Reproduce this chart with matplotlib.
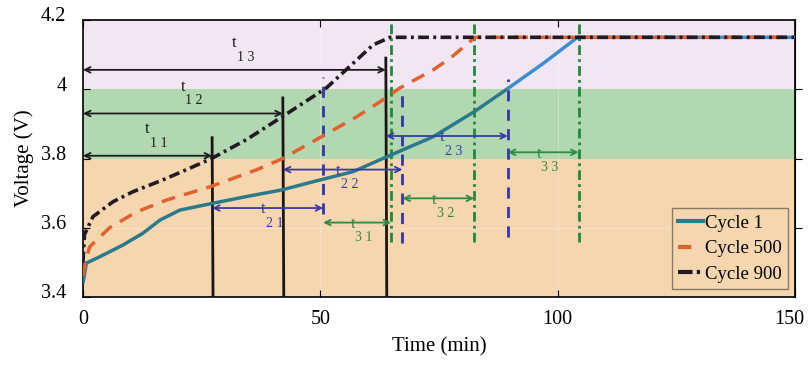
import matplotlib.pyplot as plt
import matplotlib.transforms as mtransforms
import numpy as np

plt.rcParams['font.family'] = ['Liberation Serif', 'DejaVu Serif']

# curves (time in min, voltage in V)
t_c1 = [0, 0.7, 3.5, 8.4, 12.6, 16.2, 20.4, 27.1, 34.4, 41.8, 48.5, 56.9, 64.0, 73.8, 82.4, 89.6,
        97.0, 104.2, 150]
v_c1 = [3.44, 3.498, 3.516, 3.55, 3.584, 3.622, 3.651, 3.67, 3.69, 3.709, 3.733, 3.762, 3.805, 3.863,
        3.935, 4.003, 4.075, 4.15, 4.15]
t_c500 = [0, 0.5, 1.4, 5.6, 11.3, 17.6, 26.7, 36.5, 42.1, 47.8, 57.6, 62.6, 66.8, 73.8, 77.4, 82.6, 150]
v_c500 = [3.46, 3.50, 3.545, 3.60, 3.646, 3.68, 3.718, 3.767, 3.80, 3.844, 3.92, 3.964, 4.004, 4.056,
          4.09, 4.15, 4.15]
t_c900 = [0, 0.3, 2.1, 6.3, 10.5, 16.8, 22.5, 27.1, 34.5, 41.9, 51.3, 61.1, 64.7, 150]
v_c900 = [3.50, 3.58, 3.632, 3.675, 3.704, 3.738, 3.772, 3.80, 3.855, 3.92, 4.004, 4.128, 4.15, 4.15]

# marker verticals: x, y bottom, y top
black_x = [27.2, 42.1, 63.8]
black_top = [3.86, 3.975, 4.09]
blue_x = [50.6, 67.3, 89.5]
blue_bot = [3.64, 3.556, 3.573]
blue_top = [4.035, 4.006, 4.03]
green_x = [64.9, 82.4, 104.4]
green_bot = [3.56, 3.56, 3.56]

# interval arrows: start, end, height
t1_start = [0, 0, 0]
t1_end = [27.2, 42.1, 63.8]
t1_y = [3.808, 3.93, 4.056]
t2_start = [27.2, 42.1, 63.8]
t2_end = [50.6, 67.3, 89.5]
t2_y = [3.657, 3.768, 3.865]
t3_start = [50.6, 67.3, 89.5]
t3_end = [64.9, 82.4, 104.4]
t3_y = [3.615, 3.685, 3.818]

bands = [(3.4, 3.8, '#f5d6af'), (3.8, 4.0, '#b1d8b1'), (4.0, 4.2, '#f2e6f4')]

fig = plt.figure(figsize=(8.08, 3.67), dpi=100)
ax = fig.add_axes([0.1027, 0.1907, 0.8812, 0.7548])
ax.set_xlim(0, 150)
ax.set_ylim(3.4, 4.2)

for lo, hi, c in bands:
    ax.axhspan(lo, hi, color=c, zorder=0, lw=0)
for gx in [50, 100]:
    ax.axvline(gx, color='white', lw=0.5, alpha=0.4, zorder=0.5)
ax.axhline(3.6, color='white', lw=0.5, alpha=0.4, zorder=0.5)

# vertical markers
for x, top in zip(black_x, black_top):
    ax.plot([x, x + 0.2], [top, 3.4], color='#1c1612', lw=2.0, zorder=4)
for x, b, top in zip(blue_x, blue_bot, blue_top):
    ax.plot([x, x], [b, top], color='#3535a8', lw=2.0, dashes=(4, 3), zorder=4)
for x, b in zip(green_x, green_bot):
    ax.plot([x, x], [b, 4.2], color='#1f8a3a', lw=2.0, dashes=(3.5, 1.5, 1, 1.5), zorder=4)

# curves
t1 = np.array(t_c1)
v1 = np.array(v_c1)
k = 15
ax.plot(t1[:k + 1], v1[:k + 1], color='#2b7a8c', lw=2.5, zorder=5, solid_capstyle='butt')
ax.plot(t1[k:], v1[k:], color='#3d8ed0', lw=2.5, zorder=5)
ax.plot(t_c500, v_c500, color='#e0622e', lw=2.5, dashes=(4, 2.7), zorder=6)
ax.plot(t_c900, v_c900, color='#221a22', lw=2.6, dashes=(3, 1.2, 0.8, 1.2), zorder=7)


def interval(x0, x1, y, color, name, ltype):
    ax.annotate('', xy=(x1, y), xytext=(x0, y),
                arrowprops=dict(arrowstyle='<->', color=color, lw=1.3,
                                shrinkA=0, shrinkB=0, mutation_scale=10), zorder=8)
    mid = (x0 + x1) / 2
    if ltype == 'above':
        ax.annotate('t', (mid, y), xytext=(0, 19), textcoords='offset points',
                    ha='center', va='center', fontsize=12, color=color, zorder=9)
        ax.annotate(name, (mid, y), xytext=(8, 9), textcoords='offset points',
                    ha='center', va='center', fontsize=10, color=color, zorder=9)
    else:
        ax.annotate('t', (mid, y), xytext=(-3, -1), textcoords='offset points',
                    ha='center', va='center', fontsize=12, color=color, zorder=9)
        ax.annotate(name, (mid, y), xytext=(5, -11), textcoords='offset points',
                    ha='center', va='center', fontsize=10, color=color, zorder=9)


for i in range(3):
    interval(t1_start[i], t1_end[i], t1_y[i], '#1c1c1c', '1 %d' % (i + 1), 'above')
    interval(t2_start[i], t2_end[i], t2_y[i], '#3a3aa8', '2 %d' % (i + 1), 'below')
    interval(t3_start[i], t3_end[i], t3_y[i], '#2e8b3e', '3 %d' % (i + 1), 'below')

# legend
h1, = ax.plot([], [], color='#2b7a8c', lw=3)
h2, = ax.plot([], [], color='#e0622e', lw=3, dashes=(3.2, 5))
h3, = ax.plot([], [], color='#221a22', lw=3, dashes=(3.5, 1.0, 0.8, 5))
leg = ax.legend([h1, h2, h3], ['Cycle 1', 'Cycle 500', 'Cycle 900'], loc='lower right',
                bbox_to_anchor=(0.99, 0.028), fontsize=13.5, handlelength=1.3,
                handletextpad=0.1, fancybox=False, framealpha=1, borderaxespad=0,
                facecolor='#f5d6af', edgecolor='#8a7a6a', labelspacing=0.45,
                borderpad=0.35)
leg.get_frame().set_linewidth(1.0)
leg.set_zorder(10)

ax.set_xticks([0, 50, 100, 150])
ax.set_yticks([3.4, 3.6, 3.8, 4.0, 4.2])
ax.set_yticklabels(['3.4', '3.6', '3.8', '4', '4.2'])
ax.tick_params(direction='in', top=True, right=False, labelsize=14.5, length=5)
ax.tick_params(axis='y', pad=12)
ax.tick_params(axis='x', pad=9)
sec = ax.secondary_yaxis('right')
sec.set_yticks([3.6, 3.8, 4.0])
sec.tick_params(direction='out', length=5, labelright=False)
for s in ax.spines.values():
    s.set_linewidth(1.2)
ax.set_xlabel('Time (min)', fontsize=15, labelpad=6)
ax.set_ylabel('Voltage (V)', fontsize=15, labelpad=5)

# nudge tick labels like the original
up = mtransforms.ScaledTranslation(0, 4 / 72, fig.dpi_scale_trans)
for lab in ax.get_yticklabels():
    lab.set_transform(lab.get_transform() + up)
left = mtransforms.ScaledTranslation(-4 / 72, 0, fig.dpi_scale_trans)
last = ax.get_xticklabels()[-1]
last.set_transform(last.get_transform() + left)

fig.savefig('out.png', dpi=100)
